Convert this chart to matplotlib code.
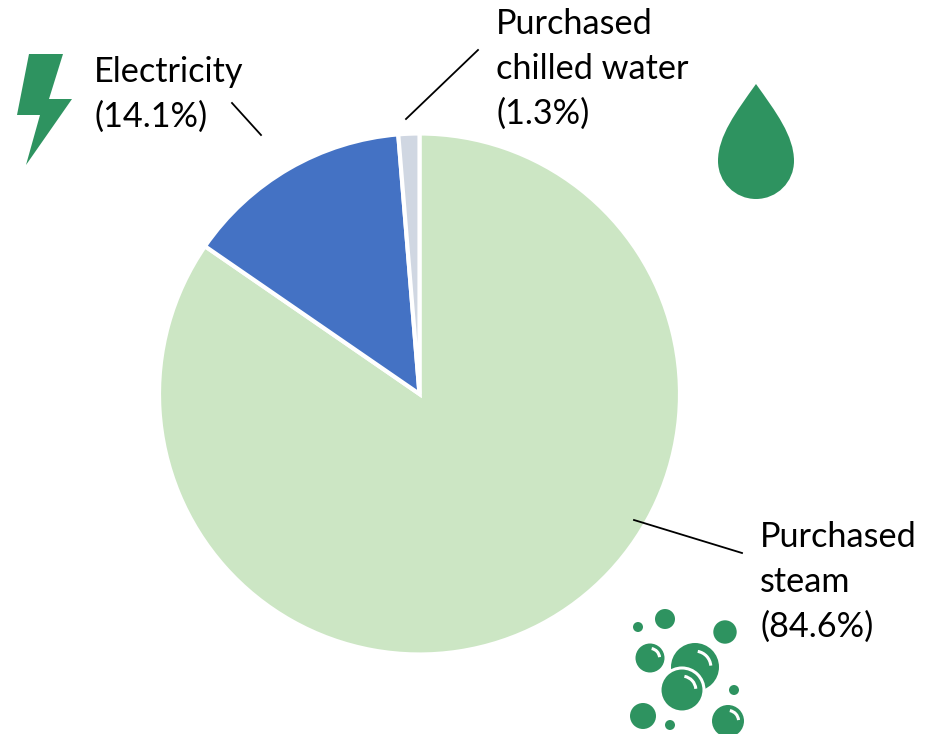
import matplotlib
matplotlib.use('Agg')
import matplotlib.pyplot as plt
from matplotlib.patches import Arc, Circle, PathPatch, Polygon
from matplotlib.path import Path

# Data
categories = ['Purchased steam', 'Electricity', 'Purchased chilled water']
shares = [84.6, 14.1, 1.3]
slice_colors = ['#CCE6C4', '#4472C4', '#D0D7E2']
label_lines = [['Purchased', 'steam', '(84.6%)'],
               ['Electricity', '(14.1%)'],
               ['Purchased', 'chilled water', '(1.3%)']]

W, H = 930, 734
GREEN = '#2E9360'


def fy(y):
    # picture pixels count from the top, the axes from the bottom
    return H - y


plt.rcParams['font.family'] = ['Lato', 'DejaVu Sans']
fig = plt.figure(figsize=(W / 100, H / 100), dpi=100)
ax = fig.add_axes([0, 0, 1, 1])

ax.pie(shares, colors=slice_colors, startangle=90, counterclock=False,
       center=(419.5, fy(394)), radius=260.5, frame=True,
       wedgeprops={'edgecolor': 'white', 'linewidth': 3})
ax.set_xlim(0, W)
ax.set_ylim(0, H)
ax.set_aspect('equal')
ax.axis('off')

# Labels
label_x = [760, 94, 496]
label_base = [547, 82, 34]
for lines, x, base in zip(label_lines, label_x, label_base):
    for i, line in enumerate(lines):
        ax.text(x, fy(base + i * 45), line, fontsize=24.7, color='black',
                ha='left', va='baseline')

# Leader lines
leaders = [((634, 520), (742, 553)), ((232, 103), (261, 135)), ((406, 119), (478, 50))]
for (x0, y0), (x1, y1) in leaders:
    ax.plot([x0, x1], [fy(y0), fy(y1)], color='black', lw=1.3)

# Lightning icon
bolt = [(29, 54), (63, 54), (49, 99), (72, 99), (26, 165), (40, 115), (17, 115)]
ax.add_patch(Polygon([(x, fy(y)) for x, y in bolt], closed=True, fc=GREEN, ec='none'))

# Drop icon
cx, cy, r = 756, 161, 38
drop = Path([(cx, fy(84)),
             (cx - 20, fy(112)), (cx - r, fy(136)), (cx - r, fy(cy)),
             (cx - r, fy(cy + 21)), (cx - 21, fy(cy + r)), (cx, fy(cy + r)),
             (cx + 21, fy(cy + r)), (cx + r, fy(cy + 21)), (cx + r, fy(cy)),
             (cx + r, fy(136)), (cx + 20, fy(112)), (cx, fy(84))],
            [Path.MOVETO] + [Path.CURVE4] * 12)
ax.add_patch(PathPatch(drop, fc=GREEN, ec='none'))

# Bubbles icon
bubbles = [(638, 627, 5), (665, 619, 10), (725, 632, 11.7), (650, 658, 14.5),
           (695, 667, 24), (734, 690, 5), (643, 716, 13), (670, 725, 5),
           (728, 721, 16)]
for x, y, rad in bubbles:
    ax.add_patch(Circle((x, fy(y)), rad, fc=GREEN, ec='none'))
ax.add_patch(Circle((682, fy(690)), 22, fc=GREEN, ec='white', lw=2.2))

shines = [(650, 658, 14.5), (695, 667, 24), (682, 690, 21), (728, 721, 16)]
for x, y, rad in shines:
    d = 2 * rad * 0.66
    ax.add_patch(Arc((x, fy(y)), d, d, theta1=5, theta2=80, color='white', lw=2.2))

fig.savefig('out.png', dpi=100, facecolor='white')
